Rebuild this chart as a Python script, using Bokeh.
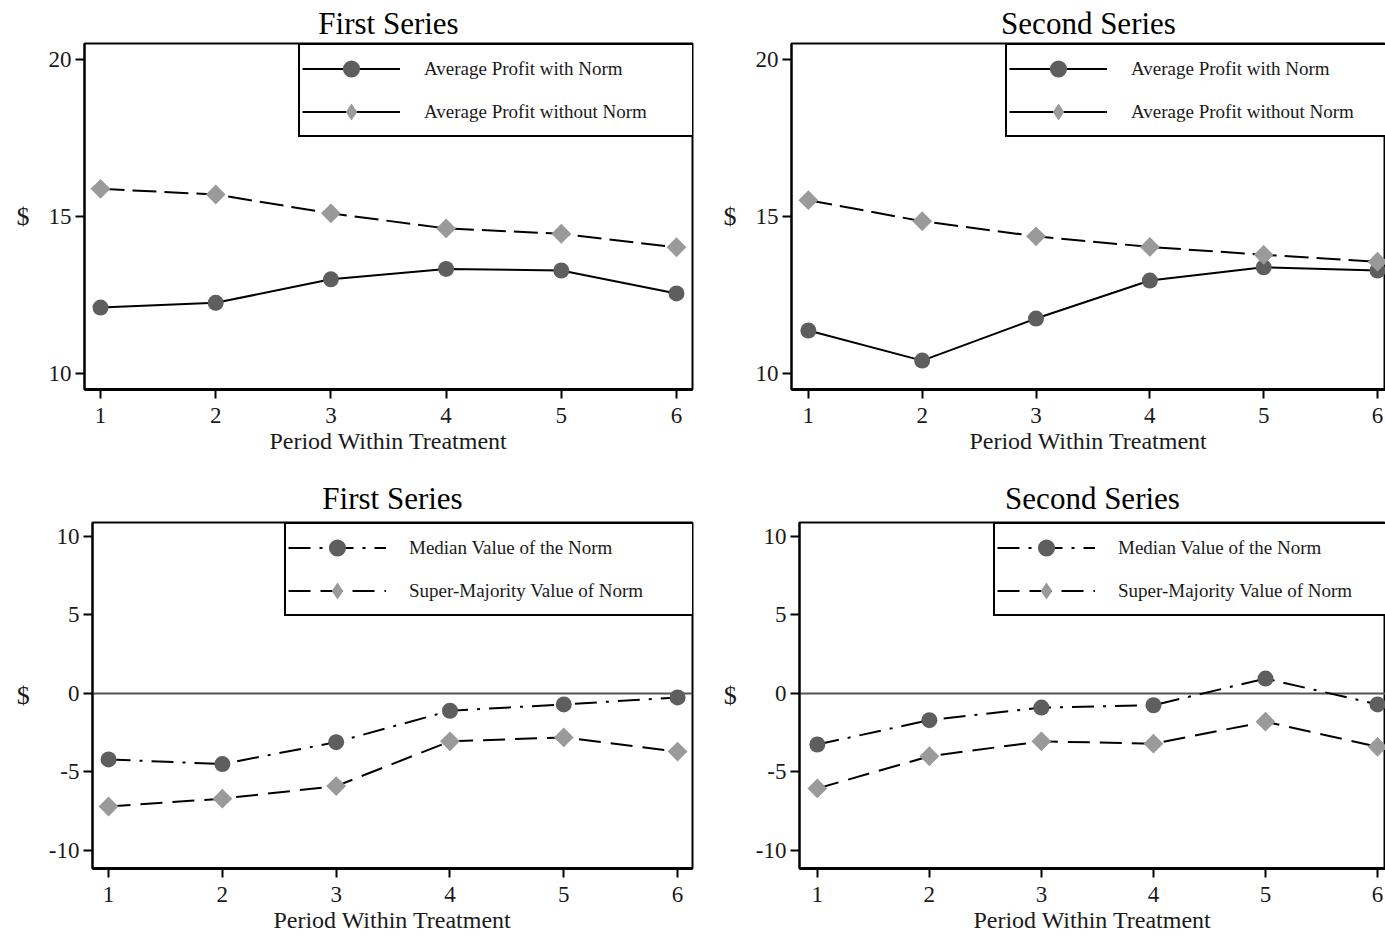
import numpy as np
from bokeh.plotting import figure
from bokeh.models import Range1d, FixedTicker, Legend, LegendItem, Span
from bokeh.layouts import column, row
from bokeh.embed import file_html
from bokeh.resources import INLINE

# ---------------- data ----------------
periods = [1, 2, 3, 4, 5, 6]
period_labels = ["1", "2", "3", "4", "5", "6"]
series_titles = ["First Series", "Second Series"]
x_axis_title = "Period Within Treatment"
y_axis_title = "$"

profit_with_norm_first = [12.10, 12.25, 13.00, 13.33, 13.28, 12.55]
profit_without_norm_first = [15.88, 15.70, 15.10, 14.62, 14.45, 14.02]
profit_with_norm_second = [11.37, 10.41, 11.75, 12.96, 13.38, 13.28]
profit_without_norm_second = [15.52, 14.85, 14.37, 14.03, 13.78, 13.56]

median_norm_first = [-4.20, -4.50, -3.10, -1.10, -0.70, -0.25]
supermajority_norm_first = [-7.20, -6.70, -5.90, -3.05, -2.80, -3.70]
median_norm_second = [-3.25, -1.70, -0.90, -0.75, 0.95, -0.70]
supermajority_norm_second = [-6.05, -4.00, -3.05, -3.20, -1.80, -3.40]

profit_legend = ["Average Profit with Norm", "Average Profit without Norm"]
norm_legend = ["Median Value of the Norm", "Super-Majority Value of Norm"]

profit_ticks = [10, 15, 20]
profit_tick_labels = ["10", "15", "20"]
norm_ticks = [-10, -5, 0, 5, 10]
norm_tick_labels = ["-10", "-5", "0", "5", "10"]

# ---------------- style ----------------
FONT = "Liberation Serif"
CIRCLE_COLOR = "#5e5e5e"
DIAMOND_COLOR = "#9a9a9a"
TEXT_COLOR = "#1a1a1a"


def style_axes(p, yticks, ylabels):
    p.xaxis.ticker = FixedTicker(ticks=periods)
    p.xaxis.major_label_overrides = {t: l for t, l in zip(periods, period_labels)}
    p.yaxis.ticker = FixedTicker(ticks=yticks)
    p.yaxis.major_label_overrides = {t: l for t, l in zip(yticks, ylabels)}
    for ax in (p.xaxis[0], p.yaxis[0]):
        ax.major_tick_out = 9
        ax.major_tick_in = 0
        ax.minor_tick_out = 0
        ax.minor_tick_in = 0
        ax.major_tick_line_width = 2
        ax.major_tick_line_color = "black"
        ax.axis_line_color = "black"
        ax.major_label_text_font = FONT
        ax.major_label_text_font_size = "23px"
        ax.major_label_text_color = TEXT_COLOR
        ax.axis_label_text_font = FONT
        ax.axis_label_text_font_style = "normal"
        ax.axis_label_text_color = TEXT_COLOR
    p.xaxis.axis_line_width = 3
    p.yaxis.axis_line_width = 2
    p.xaxis.major_label_standoff = 9
    p.yaxis.major_label_standoff = 4
    p.xaxis.axis_label = x_axis_title
    p.xaxis.axis_label_text_font_size = "24px"
    p.xaxis.axis_label_standoff = 2
    p.yaxis.axis_label = y_axis_title
    p.yaxis.axis_label_text_font_size = "26px"
    p.yaxis.axis_label_standoff = 16
    try:
        p.yaxis.axis_label_orientation = "horizontal"
    except Exception:
        pass


def make_panel(width, height, borders, xr, yr, yticks, ylabels, title, title_standoff):
    left, right, top, bottom = borders
    p = figure(width=width, height=height,
               x_range=Range1d(*xr), y_range=Range1d(*yr),
               output_backend="svg", toolbar_location=None,
               min_border_left=left, min_border_right=right,
               min_border_top=top, min_border_bottom=bottom,
               title=title)
    p.grid.visible = False
    p.outline_line_color = "black"
    p.outline_line_width = 2
    p.outline_line_alpha = 1
    p.background_fill_color = "white"
    p.border_fill_color = "white"
    p.title.align = "center"
    p.title.text_font = FONT
    p.title.text_font_size = "31px"
    p.title.text_font_style = "normal"
    p.title.text_color = "black"
    p.title.standoff = title_standoff
    style_axes(p, yticks, ylabels)
    return p


def add_series(p, y1, y2, dash1, dash2, labels, legend_xy, with_zero):
    if with_zero:
        p.add_layout(Span(location=0, dimension="width", line_color="#555555",
                          line_width=2, level="underlay"))
    l1 = p.line(periods, y1, line_color="black", line_width=2, line_dash=dash1)
    l2 = p.line(periods, y2, line_color="black", line_width=2, line_dash=dash2)
    c1 = p.scatter(periods, y1, marker="circle", size=16,
                   fill_color=CIRCLE_COLOR, line_color=None)
    # diamond glyph (also used for the legend swatch), covered by the square-diamond
    d_leg = p.scatter(periods, y2, marker="diamond", size=19,
                      fill_color=DIAMOND_COLOR, line_color=None)
    p.scatter(periods, y2, marker="square", size=14, angle=np.pi / 4,
              fill_color=DIAMOND_COLOR, line_color=None)
    legend_line2 = l2 if with_zero else l1
    items = [LegendItem(label=labels[0], renderers=[l1, c1]),
             LegendItem(label=labels[1], renderers=[legend_line2, d_leg])]
    lw = 268 if not with_zero else 283
    stand = 24 if not with_zero else 23
    legend = Legend(items=items, location=legend_xy, orientation="vertical",
                    border_line_color="black", border_line_width=2, border_line_alpha=1,
                    background_fill_color="white", background_fill_alpha=1,
                    padding=2, spacing=0, margin=0,
                    glyph_width=98, glyph_height=43,
                    label_standoff=stand, label_width=lw, label_height=43,
                    label_text_font=FONT, label_text_font_size="19px",
                    label_text_color=TEXT_COLOR)
    p.add_layout(legend)


# top row: frames at y 43..389
top_yr = (9.49, 20.51)
tl = make_panel(720, 470, (84, 28, 43, 81), (0.861, 6.139), top_yr,
                profit_ticks, profit_tick_labels, series_titles[0], 6)
add_series(tl, profit_with_norm_first, profit_without_norm_first,
           "solid", "24 8", profit_legend, (214, 252), False)

tr = make_panel(665, 470, (66, 0, 43, 81), (0.852, 6.07), top_yr,
                profit_ticks, profit_tick_labels, series_titles[1], 6)
add_series(tr, profit_with_norm_second, profit_without_norm_second,
           "solid", "24 8", profit_legend, (214, 252), False)

# bottom row: frames at y 522..868
bot_yr = (-11.15, 10.89)
bl = make_panel(720, 466, (92, 28, 52, 68), (0.859, 6.131), bot_yr,
                norm_ticks, norm_tick_labels, series_titles[0], 14)
add_series(bl, median_norm_first, supermajority_norm_first,
           "22 9 3 9", "22 10", norm_legend, (192, 252), True)

br = make_panel(665, 466, (74, 0, 52, 68), (0.841, 6.071), bot_yr,
                norm_ticks, norm_tick_labels, series_titles[1], 14)
add_series(br, median_norm_second, supermajority_norm_second,
           "22 9 3 9", "22 10", norm_legend, (194, 252), True)

layout = column(row(tl, tr, spacing=0), row(bl, br, spacing=0), spacing=0)

open("out.html", "w").write(file_html(layout, INLINE))
